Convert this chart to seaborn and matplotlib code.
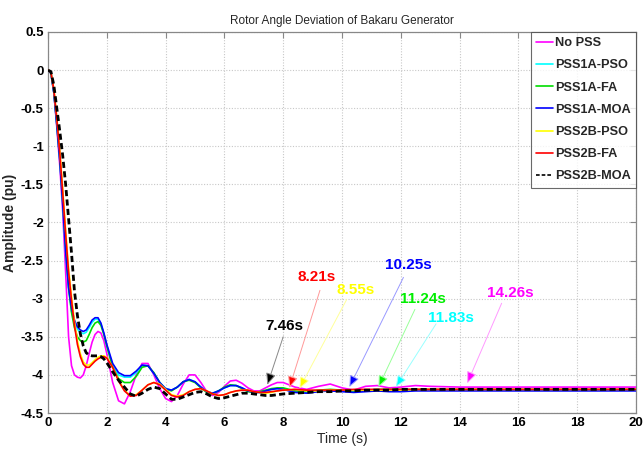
import numpy as np
import pandas as pd
import matplotlib
matplotlib.use("Agg")
import matplotlib.pyplot as plt
import seaborn as sns

# Simulation time grid (s)
time = [0, 0.1, 0.2, 0.3, 0.4, 0.5, 0.6, 0.7, 0.8, 0.9, 1.0, 1.1, 1.2, 1.3, 1.4, 1.5,
        1.6, 1.7, 1.8, 1.9, 2.0, 2.2, 2.4, 2.6, 2.8, 3.0, 3.2, 3.4, 3.6, 3.8, 4.0,
        4.2, 4.4, 4.6, 4.8, 5.0, 5.2, 5.4, 5.6, 5.8, 6.0, 6.2, 6.4, 6.6, 6.8, 7.0,
        7.2, 7.4, 7.6, 7.8, 8.0, 8.4, 8.8, 9.2, 9.6, 10.0, 10.4, 10.8, 11.2, 11.6,
        12.0, 12.5, 13.0, 14.0, 15.0, 16.0, 17.0, 18.0, 19.0, 20.0]

no_pss = [0, -0.04, -0.30, -0.75, -1.25, -1.85, -2.65, -3.50, -3.88, -4.00, -4.03,
          -4.04, -4.00, -3.88, -3.72, -3.57, -3.47, -3.43, -3.45, -3.55, -3.72,
          -4.10, -4.34, -4.38, -4.22, -4.00, -3.85, -3.85, -4.00, -4.18, -4.31,
          -4.35, -4.27, -4.12, -4.00, -4.00, -4.10, -4.22, -4.27, -4.23, -4.15,
          -4.08, -4.07, -4.11, -4.17, -4.21, -4.21, -4.17, -4.13, -4.10, -4.10,
          -4.16, -4.19, -4.15, -4.12, -4.17, -4.20, -4.15, -4.14, -4.17, -4.16,
          -4.14, -4.15, -4.16, -4.16, -4.16, -4.16, -4.16, -4.16, -4.16]

pss1a_pso = [0, -0.04, -0.30, -0.72, -1.18, -1.76, -2.40, -2.88, -3.16, -3.31, -3.40,
             -3.44, -3.46, -3.44, -3.38, -3.31, -3.27, -3.27, -3.33, -3.46, -3.62,
             -3.88, -4.00, -4.03, -4.03, -3.97, -3.88, -3.88, -3.98, -4.10, -4.18,
             -4.20, -4.16, -4.09, -4.06, -4.09, -4.16, -4.22, -4.24, -4.21, -4.17,
             -4.14, -4.14, -4.17, -4.21, -4.23, -4.23, -4.21, -4.19, -4.18, -4.19,
             -4.22, -4.23, -4.21, -4.20, -4.21, -4.22, -4.21, -4.20, -4.21, -4.21,
             -4.20, -4.20, -4.20, -4.20, -4.20, -4.20, -4.20, -4.20, -4.20]

pss1a_fa = [0, -0.04, -0.29, -0.70, -1.15, -1.70, -2.32, -2.85, -3.18, -3.38, -3.50,
            -3.55, -3.57, -3.55, -3.47, -3.38, -3.32, -3.30, -3.35, -3.47, -3.62,
            -3.90, -4.05, -4.10, -4.10, -4.02, -3.90, -3.88, -3.97, -4.10, -4.19,
            -4.21, -4.16, -4.09, -4.07, -4.10, -4.17, -4.23, -4.25, -4.21, -4.16,
            -4.13, -4.14, -4.18, -4.22, -4.23, -4.22, -4.20, -4.18, -4.17, -4.17,
            -4.21, -4.22, -4.20, -4.19, -4.20, -4.21, -4.20, -4.19, -4.19, -4.19,
            -4.19, -4.19, -4.19, -4.19, -4.19, -4.19, -4.19, -4.19, -4.19]

pss1a_moa = [0, -0.04, -0.30, -0.72, -1.18, -1.75, -2.38, -2.85, -3.12, -3.28, -3.37,
             -3.41, -3.43, -3.41, -3.35, -3.28, -3.25, -3.25, -3.32, -3.45, -3.60,
             -3.85, -3.97, -4.01, -4.01, -3.95, -3.87, -3.88, -3.98, -4.10, -4.18,
             -4.20, -4.16, -4.09, -4.06, -4.09, -4.16, -4.22, -4.24, -4.21, -4.17,
             -4.14, -4.14, -4.17, -4.21, -4.23, -4.23, -4.21, -4.19, -4.18, -4.19,
             -4.23, -4.24, -4.22, -4.21, -4.22, -4.23, -4.22, -4.21, -4.22, -4.22,
             -4.21, -4.21, -4.21, -4.21, -4.21, -4.21, -4.21, -4.21, -4.21]

pss2b_pso = [0, -0.03, -0.25, -0.62, -1.05, -1.55, -2.10, -2.60, -2.97, -3.30, -3.55,
             -3.72, -3.83, -3.87, -3.87, -3.84, -3.80, -3.77, -3.75, -3.75, -3.77,
             -3.90, -4.07, -4.20, -4.27, -4.26, -4.20, -4.13, -4.10, -4.12, -4.19,
             -4.26, -4.28, -4.26, -4.22, -4.19, -4.18, -4.21, -4.25, -4.27, -4.26,
             -4.23, -4.21, -4.20, -4.20, -4.22, -4.23, -4.24, -4.23, -4.21, -4.20,
             -4.19, -4.21, -4.21, -4.20, -4.20, -4.20, -4.20, -4.20, -4.20, -4.20,
             -4.19, -4.19, -4.19, -4.19, -4.19, -4.19, -4.19, -4.19, -4.19]

pss2b_fa = [0, -0.03, -0.26, -0.64, -1.08, -1.60, -2.15, -2.65, -3.02, -3.35, -3.60,
            -3.76, -3.86, -3.90, -3.90, -3.86, -3.82, -3.79, -3.77, -3.76, -3.78,
            -3.90, -4.08, -4.21, -4.28, -4.27, -4.20, -4.13, -4.10, -4.13, -4.20,
            -4.27, -4.29, -4.27, -4.22, -4.19, -4.18, -4.21, -4.25, -4.27, -4.26,
            -4.23, -4.21, -4.20, -4.20, -4.22, -4.23, -4.23, -4.22, -4.21, -4.20,
            -4.19, -4.20, -4.20, -4.20, -4.20, -4.19, -4.19, -4.19, -4.19, -4.19,
            -4.19, -4.19, -4.19, -4.19, -4.19, -4.19, -4.19, -4.19, -4.19]

pss2b_moa = [0, -0.02, -0.20, -0.50, -0.80, -1.12, -1.50, -1.95, -2.40, -2.90, -3.22,
             -3.46, -3.62, -3.71, -3.74, -3.75, -3.75, -3.75, -3.76, -3.79, -3.84,
             -3.96, -4.07, -4.16, -4.25, -4.28, -4.24, -4.19, -4.16, -4.18, -4.25,
             -4.32, -4.32, -4.29, -4.26, -4.23, -4.22, -4.25, -4.29, -4.31, -4.30,
             -4.28, -4.26, -4.24, -4.24, -4.25, -4.26, -4.27, -4.27, -4.26, -4.25,
             -4.24, -4.23, -4.22, -4.22, -4.21, -4.21, -4.20, -4.20, -4.20, -4.19,
             -4.19, -4.19, -4.19, -4.19, -4.19, -4.19, -4.19, -4.19, -4.19]

series_names = ["No PSS", "PSS1A-PSO", "PSS1A-FA", "PSS1A-MOA",
                "PSS2B-PSO", "PSS2B-FA", "PSS2B-MOA"]
series_values = [no_pss, pss1a_pso, pss1a_fa, pss1a_moa,
                 pss2b_pso, pss2b_fa, pss2b_moa]
series_colors = ["#ff00ff", "#00ffff", "#00dd00", "#0000ff",
                 "#ffff00", "#ff0000", "#000000"]

# Settling-time callouts: label, time, colour
settle_labels = ["7.46s", "8.21s", "8.55s", "10.25s", "11.24s", "11.83s", "14.26s"]
settle_times = [7.46, 8.21, 8.55, 10.25, 11.24, 11.83, 14.26]
settle_colors = ["#000000", "#ff0000", "#ffff00", "#0000ff", "#00ee00", "#00ffff", "#ff00ff"]
settle_line_colors = ["#888888", "#ff9999", "#ffff99", "#9999ff", "#99ff99", "#99ffff", "#ff99ff"]

df = pd.concat(
    [pd.DataFrame({"Time (s)": time, "Amplitude (pu)": vals, "Controller": name})
     for name, vals in zip(series_names, series_values)],
    ignore_index=True,
)

sns.set_style("white")
fonts = ["Liberation Sans", "DejaVu Sans"]
plt.rcParams["font.family"] = fonts
plt.rcParams["axes.unicode_minus"] = False

fig = plt.figure(figsize=(6.43, 4.51), dpi=100)
ax = fig.add_axes([48 / 643, 1 - 413 / 451, 588 / 643, 381 / 451])

for name, color in zip(series_names, series_colors):
    sub = df[df["Controller"] == name]
    if name == "PSS2B-MOA":
        sns.lineplot(data=sub, x="Time (s)", y="Amplitude (pu)", ax=ax, color=color,
                     lw=2.0, linestyle=(0, (2.2, 1.2)), label=name, zorder=5)
    else:
        sns.lineplot(data=sub, x="Time (s)", y="Amplitude (pu)", ax=ax, color=color,
                     lw=1.2, label=name, zorder=3)

ax.set_xlim(0, 20)
ax.set_ylim(-4.5, 0.5)
ax.set_xticks(np.arange(0, 21, 2))
ax.set_yticks(np.arange(-4.5, 0.51, 0.5))
ax.yaxis.set_major_formatter(matplotlib.ticker.FormatStrFormatter("%g"))
ax.grid(True, color="#c8c8c8", linestyle=(0, (1, 1.5)), linewidth=0.8)
ax.tick_params(direction="in", length=4, width=0.8, colors="#888888",
               labelcolor="black", labelsize=9.5, top=True, right=True, pad=3)
for lab in ax.get_xticklabels() + ax.get_yticklabels():
    lab.set_fontweight("bold")
for sp in ax.spines.values():
    sp.set_color("#888888")
    sp.set_linewidth(0.9)

ax.set_xlabel("Time (s)", fontsize=10, labelpad=2)
ax.set_ylabel("Amplitude (pu)", fontsize=10, fontweight="bold", labelpad=3)
ax.set_title("Rotor Angle Deviation of Bakaru Generator", fontsize=8.5, pad=6)

# Callout geometry: (text x, text y), (line start x, line start y), tip y
callout_text = [(8.03, -3.36), (9.15, -2.72), (10.46, -2.89), (12.25, -2.56),
                (12.74, -3.00), (13.70, -3.25), (15.71, -2.92)]
callout_start = [(8.00, -3.50), (9.25, -2.89), (10.16, -3.01), (12.09, -2.72),
                 (12.48, -3.14), (13.20, -3.33), (15.43, -3.06)]
callout_tip_y = [-4.13, -4.17, -4.18, -4.16, -4.16, -4.16, -4.11]

for lab, t, c, lc, (tx, ty), (sx, sy), tipy in zip(
        settle_labels, settle_times, settle_colors, settle_line_colors,
        callout_text, callout_start, callout_tip_y):
    ax.text(tx, ty, lab, color=c, fontsize=11, fontweight="bold",
            ha="center", va="center", zorder=8)
    ax.annotate("", xy=(t, tipy), xytext=(sx, sy),
                arrowprops=dict(arrowstyle="-|>,head_length=0.7,head_width=0.3",
                                edgecolor=lc, facecolor=c, lw=0.7,
                                shrinkA=0, shrinkB=0),
                zorder=7)

leg = ax.legend(loc="upper right", frameon=True, fancybox=False,
                borderaxespad=0, handlelength=1.3, handletextpad=0.15,
                labelspacing=0.8, borderpad=0.4,
                prop={"family": fonts, "weight": "bold", "size": 9.2})
leg.get_frame().set_edgecolor("#444444")
leg.get_frame().set_linewidth(0.8)
for h in leg.get_lines():
    h.set_linewidth(1.2)

fig.savefig("out.png", dpi=100, facecolor="white")
